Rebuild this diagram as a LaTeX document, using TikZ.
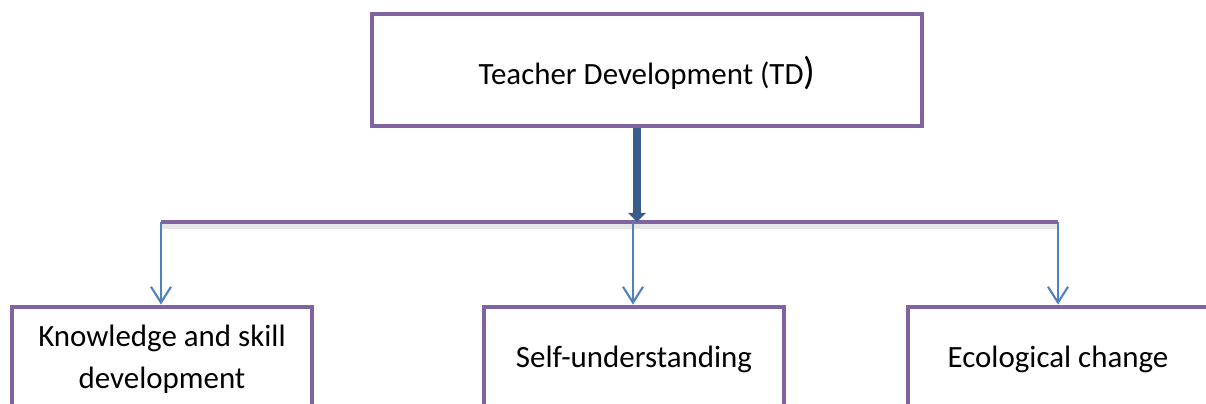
\documentclass[tikz,border=0pt]{standalone}
\usepackage{fontspec}
\setmainfont{Carlito}
\usetikzlibrary{arrows.meta}
\definecolor{boxpurple}{HTML}{8064A2}
\definecolor{linkblue}{HTML}{4F81BD}
\definecolor{mainblue}{HTML}{385D8A}
\tikzset{
  tdbox/.style={draw=boxpurple, line width=1.4pt, fill=white, minimum height=1.12cm, align=center, font=\fontsize{8.8}{12}\selectfont},
  subbox/.style={tdbox, minimum width=3cm, minimum height=1.04cm},
  link/.style={draw=linkblue, line width=0.6pt, -{Straight Barb[length=4.5pt,width=5.7pt]}}
}
\begin{document}
\begin{tikzpicture}
\useasboundingbox (0,0) rectangle (12.06,4.03);
\clip (0,0) rectangle (12.06,4.03);
% Top box
\node[tdbox, minimum width=5.5cm, text depth=-0.6pt] (td) at (6.47,3.33) {Teacher Development (TD{\fontsize{11}{12}\selectfont)}};
% Bar
\coordinate (hub) at (6.37,1.81);
\coordinate (barL) at (1.61,1.81);
\coordinate (barM) at (6.33,1.81);
\coordinate (barR) at (10.58,1.81);
\draw[black!20, line width=1.6pt, opacity=0.5] ([yshift=-1.2pt]barL) -- ([yshift=-1.2pt]barR);
\draw[boxpurple, line width=1.2pt] (barL) -- (barR);
\draw[mainblue, line width=2.4pt, -{Triangle[width=5pt,length=2.6pt]}] (td.south -| hub) -- (hub);
% Bottom boxes
\node[subbox] (ksd) at (1.62,0.44) {Knowledge and skill\\development};
\node[subbox] (su) at (6.34,0.44) {Self-understanding};
\node[subbox] (ec) at (10.58,0.44) {Ecological change};
% Links
\draw[link] (barL) -- (ksd.north -| barL);
\draw[link] (barM) -- (su.north -| barM);
\draw[link] (barR) -- (ec.north -| barR);
\end{tikzpicture}
\end{document}
